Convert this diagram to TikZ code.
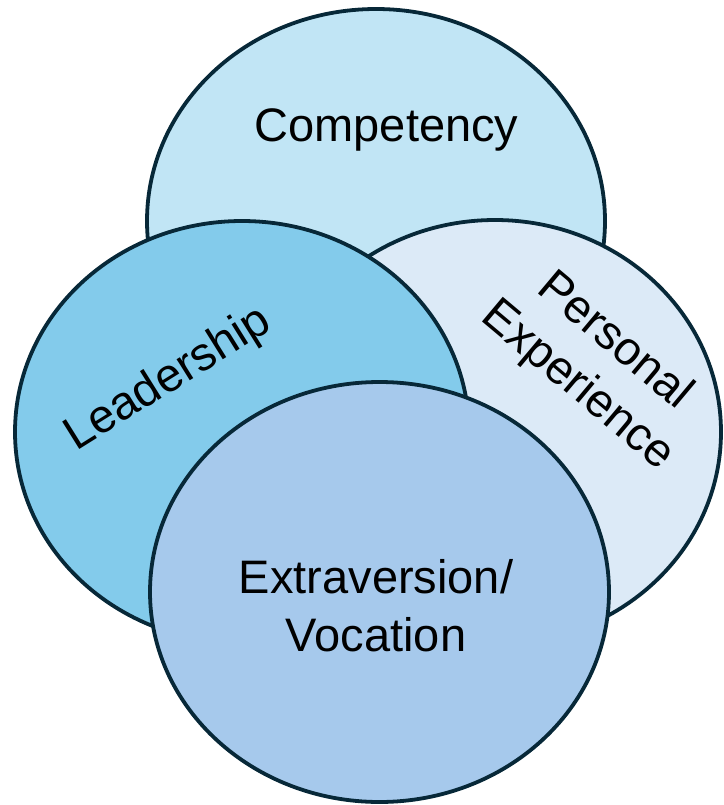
\documentclass[tikz,border=0pt]{standalone}
\usepackage{fontspec}
\setmainfont{Liberation Sans}
\usetikzlibrary{shapes.geometric}
\definecolor{edgecol}{HTML}{072838}
\definecolor{topfill}{HTML}{C1E5F5}
\definecolor{leftfill}{HTML}{83CBEB}
\definecolor{rightfill}{HTML}{DCEAF7}
\definecolor{botfill}{HTML}{A6C9EC}
\tikzset{
  blob/.style={ellipse, draw=edgecol, line width=3.8pt, inner sep=0pt},
  lbl/.style={font=\fontsize{47}{58}\selectfont, text=black, inner sep=0pt, align=center}
}
\begin{document}
\begin{tikzpicture}[x=1pt,y=-1pt]
\useasboundingbox (0,0) rectangle (723,805);
% ellipses (diameters in pt)
\node[blob, fill=topfill, minimum width=458pt, minimum height=424pt] (top) at (376,221) {};
\node[blob, fill=rightfill, minimum width=452pt, minimum height=424pt] (right) at (495,432) {};
\node[blob, fill=leftfill, minimum width=454pt, minimum height=422pt] (left) at (242,432) {};
\node[blob, fill=botfill, minimum width=459pt, minimum height=420pt] (bottom) at (379.5,592) {};
% labels
\node[lbl, anchor=base] (tcomp) at (386.5,142) {Competency};
\node[lbl, anchor=base, rotate=32] (tlead) at (175,390) {Leadership};
\node[lbl, rotate=-40] (tpers) at (596,364) {Personal\\Experience};
\node[lbl] (text) at (376,606) {Extraversion/\\Vocation};
\end{tikzpicture}
\end{document}
